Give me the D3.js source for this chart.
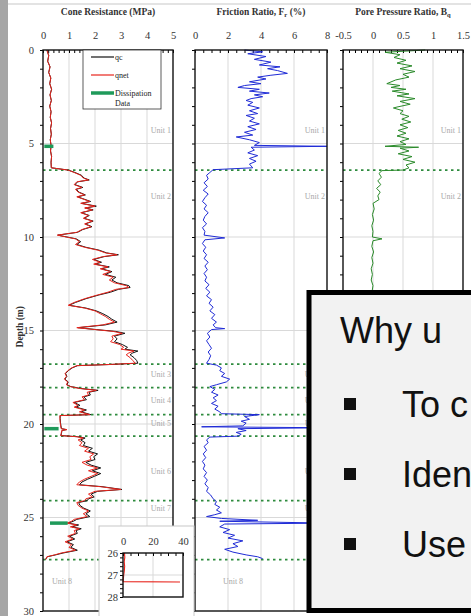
<!DOCTYPE html>
<html>
<head>
<meta charset="utf-8">
<script src="https://cdn.jsdelivr.net/npm/d3@7"></script>
<style>
  body { margin: 0; background: #fff; }
  svg { display: block; }
</style>
</head>
<body>
<svg id="chart" width="471" height="616"></svg>
<script>
// ---- data ----
var depthTicks = [0, 5, 10, 15, 20, 25, 30];
var coneTicks = [0, 1, 2, 3, 4, 5];
var frTicks = [0, 2, 4, 6, 8];
var bqTicks = [-0.5, 0, 0.5, 1, 1.5];
var insetXTicks = [0, 20, 40];
var insetYTicks = [26, 27, 28];

var coneDepth = [0.0, 0.3, 0.6, 0.9, 1.2, 1.5, 1.8, 2.1, 2.4, 2.7, 3.0, 3.3, 3.6, 3.9, 4.2, 4.5, 4.8, 5.1, 5.4, 5.7, 6.0, 6.3,
  6.42, 6.55, 6.7, 6.85, 6.95, 7.05, 7.2, 7.35, 7.45, 7.6, 7.75, 7.85, 7.95, 8.1, 8.2, 8.35, 8.45, 8.55, 8.7, 8.85, 9.0, 9.15,
  9.3, 9.45, 9.6, 9.75, 9.9, 10.0, 10.1, 10.25, 10.4, 10.55, 10.7, 10.85, 10.95, 11.05, 11.2, 11.35, 11.45, 11.6, 11.7, 11.85,
  12.0, 12.15, 12.3, 12.45, 12.6, 12.7, 12.8, 12.95, 13.1, 13.3, 13.5, 13.65, 13.8, 13.95, 14.1, 14.25, 14.4, 14.55, 14.7,
  14.85, 14.95, 15.05, 15.15, 15.3, 15.45, 15.6, 15.75, 15.9, 16.0, 16.1, 16.2, 16.3, 16.45, 16.6, 16.75, 16.82, 16.88, 17.0,
  17.15, 17.3, 17.45, 17.6, 17.75, 17.9, 18.0, 18.1, 18.2, 18.3, 18.45, 18.55, 18.7, 18.85, 19.0, 19.1, 19.25, 19.35, 19.5,
  19.55, 19.7, 19.9, 20.1, 20.25, 20.3, 20.35, 20.5, 20.62, 20.68, 20.75, 20.85, 21.0, 21.15, 21.3, 21.45, 21.6, 21.75, 21.9,
  22.05, 22.2, 22.35, 22.5, 22.65, 22.8, 22.95, 23.1, 23.25, 23.35, 23.5, 23.6, 23.75, 23.9, 24.0, 24.1, 24.2, 24.35, 24.5,
  24.65, 24.8, 24.95, 25.1, 25.2, 25.3, 25.4, 25.5, 25.6, 25.7, 25.85, 26.0, 26.15, 26.3, 26.45, 26.6, 26.75, 26.9, 27.0,
  27.1, 27.25];
var qnet = [0.15, 0.22, 0.18, 0.27, 0.22, 0.3, 0.26, 0.33, 0.27, 0.32, 0.26, 0.31, 0.28, 0.33, 0.29, 0.32, 0.28, 0.31, 0.29, 0.33, 0.31, 0.32,
  0.96, 1.2, 1.45, 1.55, 1.75, 1.3, 1.2, 1.5, 1.25, 1.35, 1.6, 1.3, 1.5, 1.8, 1.45, 2.0, 1.6, 1.9, 1.45, 1.75, 1.55, 1.9,
  1.6, 1.85, 1.5, 1.3, 0.55, 0.9, 1.25, 1.4, 1.25, 1.6, 2.1, 2.4, 2.85, 2.3, 1.9, 2.2, 1.95, 2.5, 2.2, 2.6,
  2.3, 2.7, 2.55, 2.75, 3.2, 3.3, 2.8, 2.5, 2.1, 1.6, 1.2, 0.97, 1.6, 2.0, 2.2, 2.4, 2.55, 2.75, 2.3,
  1.3, 2.0, 2.7, 3.05, 2.65, 2.7, 2.6, 2.95, 3.1, 3.0, 3.5, 3.3, 3.2, 3.35, 3.45, 3.55, 2.5, 1.3, 1.1,
  0.95, 0.85, 0.9, 0.82, 0.95, 0.9, 1.05, 1.4, 2.05, 1.7, 1.75, 1.5, 1.6, 1.15, 1.35, 1.2, 1.6, 1.4, 1.8,
  0.65, 0.65, 0.66, 0.68, 0.7, 0.92, 0.72, 0.7, 0.68, 1.3, 1.55, 1.35, 1.5, 1.4, 1.75, 1.6, 1.95, 1.8, 1.85,
  1.5, 1.7, 2.1, 1.75, 2.1, 1.85, 1.6, 1.4, 1.3, 2.2, 3.0, 2.0, 1.75, 1.9, 1.65, 1.6, 1.3, 1.35, 1.5,
  1.75, 1.55, 1.7, 1.2, 1.1, 0.92, 1.3, 1.05, 1.4, 1.2, 1.25, 0.95, 1.15, 0.85, 1.1, 1.0, 1.25, 0.7, 0.45,
  0.15, 0.1];
var qc = [0.15, 0.22, 0.18, 0.27, 0.22, 0.3, 0.26, 0.33, 0.27, 0.32, 0.26, 0.31, 0.28, 0.33, 0.29, 0.32, 0.28, 0.31, 0.29, 0.33, 0.31, 0.32,
  0.97, 1.23, 1.48, 1.58, 1.78, 1.33, 1.23, 1.53, 1.28, 1.38, 1.63, 1.33, 1.53, 1.83, 1.48, 2.05, 1.63, 1.93, 1.48, 1.78, 1.58, 1.93,
  1.63, 1.88, 1.53, 1.33, 0.57, 0.92, 1.28, 1.45, 1.3, 1.65, 2.15, 2.45, 2.9, 2.35, 1.95, 2.25, 2.0, 2.55, 2.25, 2.65,
  2.4, 2.8, 2.65, 2.85, 3.3, 3.35, 2.9, 2.6, 2.15, 1.65, 1.25, 1.0, 1.65, 2.05, 2.3, 2.5, 2.65, 2.85, 2.4,
  1.35, 2.05, 2.8, 3.15, 2.75, 2.85, 2.75, 3.05, 3.25, 3.15, 3.65, 3.45, 3.35, 3.5, 3.6, 3.65, 2.55, 1.33, 1.12,
  0.97, 0.87, 0.92, 0.84, 0.97, 0.92, 1.07, 1.45, 2.12, 1.77, 1.82, 1.57, 1.67, 1.2, 1.42, 1.27, 1.67, 1.47, 1.84,
  0.66, 0.66, 0.67, 0.69, 0.71, 0.9, 0.73, 0.71, 0.69, 1.33, 1.62, 1.45, 1.62, 1.55, 1.9, 1.75, 2.1, 1.95, 2.0,
  1.65, 1.85, 2.22, 1.9, 2.22, 1.97, 1.72, 1.5, 1.4, 2.27, 3.03, 2.1, 1.85, 1.97, 1.75, 1.7, 1.37, 1.42, 1.57,
  1.82, 1.65, 1.8, 1.3, 1.17, 0.97, 1.37, 1.12, 1.47, 1.27, 1.32, 1.02, 1.22, 0.92, 1.17, 1.07, 1.32, 0.77, 0.48,
  0.16, 0.1];

var dissDepth = [5.15, 20.25, 25.3];
var dissFrom = [0.05, 0.05, 0.27];
var dissTo = [0.4, 0.6, 0.95];

var frDepth = [0.0, 0.1, 0.2, 0.35, 0.5, 0.65, 0.8, 0.9, 1.0, 1.1, 1.25, 1.35, 1.45, 1.55, 1.7, 1.8, 1.9, 2.0, 2.1, 2.2,
  2.3, 2.4, 2.5, 2.6, 2.7, 2.8, 2.95, 3.1, 3.25, 3.4, 3.5, 3.65, 3.8, 3.95, 4.1, 4.25, 4.4, 4.55, 4.65, 4.8, 4.95, 5.1,
  5.15, 5.2, 5.35, 5.5, 5.65, 5.8, 5.95, 6.1, 6.3, 6.4, 6.55, 6.7, 6.9, 7.1, 7.3, 7.5, 7.7, 7.9, 8.1, 8.3, 8.5, 8.7, 8.9,
  9.1, 9.3, 9.5, 9.7, 9.9, 10.05, 10.15, 10.35, 10.55, 10.75, 10.95, 11.15, 11.35, 11.55, 11.75, 11.95, 12.15, 12.35,
  12.55, 12.75, 12.95, 13.15, 13.35, 13.55, 13.75, 13.95, 14.15, 14.35, 14.55, 14.7, 14.85, 14.9, 14.95, 15.15, 15.35,
  15.55, 15.75, 15.95, 16.15, 16.35, 16.55, 16.75, 16.85, 17.0, 17.15, 17.3, 17.45, 17.6, 17.75, 17.9, 18.0, 18.15,
  18.3, 18.45, 18.6, 18.75, 18.9, 19.05, 19.2, 19.35, 19.45, 19.5, 19.6, 19.75, 19.85, 19.95, 20.1, 20.15, 20.2, 20.25,
  20.35, 20.45, 20.55, 20.65, 20.7, 20.85, 21.0, 21.2, 21.4, 21.6, 21.8, 22.0, 22.2, 22.4, 22.6, 22.8, 23.0, 23.2, 23.4,
  23.6, 23.8, 24.0, 24.15, 24.3, 24.45, 24.6, 24.75, 24.85, 24.95, 25.05, 25.15, 25.2, 25.3, 25.35, 25.5, 25.65, 25.8,
  25.95, 26.1, 26.25, 26.4, 26.55, 26.7, 26.85, 27.0, 27.1, 27.2];
var fr = [3.0, 4.1, 3.2, 4.3, 3.6, 4.6, 3.9, 5.15, 4.4, 5.0, 5.6, 4.6, 3.8, 4.3, 3.3, 4.0, 3.0, 2.6, 3.9, 3.3,
  4.5, 3.6, 4.1, 3.4, 3.1, 3.5, 3.2, 3.9, 3.3, 3.8, 3.1, 3.6, 3.3, 3.9, 3.2, 3.7, 3.0, 3.5, 2.5, 3.3, 3.9, 3.6,
  8.0, 3.4, 3.6, 3.2, 3.8, 3.3, 3.7, 3.3, 3.5, 1.1, 0.9, 0.7, 0.8, 0.55, 0.75, 0.5, 0.8, 0.6, 0.45, 0.7, 0.55, 0.8, 0.6,
  0.5, 0.7, 0.45, 0.6, 0.55, 1.8, 0.6, 0.45, 0.65, 0.5, 0.7, 0.55, 0.8, 0.6, 0.75, 0.55, 0.7, 0.6,
  0.85, 0.65, 0.9, 0.7, 1.0, 0.85, 1.1, 0.9, 1.2, 1.0, 1.3, 1.1, 1.25, 1.8, 1.0, 0.75, 0.9,
  0.7, 0.85, 1.0, 0.8, 0.95, 0.85, 0.7, 1.3, 1.6, 1.5, 1.8, 1.6, 2.1, 1.9, 1.3, 0.9, 1.2,
  1.0, 1.4, 1.1, 1.3, 1.0, 1.4, 1.2, 1.5, 1.6, 3.9, 3.0, 3.3, 2.8, 3.1, 2.9, 0.4, 8.0, 2.6,
  3.1, 2.5, 2.8, 2.6, 0.9, 0.7, 0.8, 0.55, 0.7, 0.5, 0.65, 0.45, 0.6, 0.5, 0.7, 0.55, 0.75, 0.6, 0.8,
  0.7, 0.95, 1.1, 1.3, 1.2, 1.5, 1.3, 1.6, 1.2, 0.7, 1.6, 3.8, 1.5, 8.0, 1.8, 1.5, 2.1, 1.7,
  2.4, 2.0, 2.9, 2.3, 2.6, 1.8, 2.3, 3.1, 3.8, 4.1];

var bqDepth = [0.0, 0.05, 0.12, 0.25, 0.4, 0.55, 0.7, 0.85, 1.0, 1.15, 1.3, 1.45, 1.6, 1.8, 1.9, 2.0, 2.1, 2.2, 2.35,
  2.45, 2.6, 2.75, 2.9, 3.05, 3.1, 3.25, 3.4, 3.55, 3.7, 3.85, 4.0, 4.15, 4.3, 4.45, 4.6, 4.75, 4.9, 5.05, 5.15, 5.2,
  5.25, 5.4, 5.55, 5.7, 5.85, 6.0, 6.15, 6.3, 6.42, 6.45, 6.6, 6.8, 7.0, 7.2, 7.4, 7.6, 7.8, 8.0, 8.2, 8.5, 8.8, 9.1,
  9.4, 9.7, 10.0, 10.1, 10.2, 10.5, 10.8, 11.1, 11.4, 11.7, 12.0, 12.3, 12.6, 13.0, 14.0, 15.0, 16.0];
var bq = [0.87, 0.6, 0.2, 0.45, 0.35, 0.55, 0.4, 0.65, 0.45, 0.7, 0.5, 0.6, 0.38, 0.23, 0.45, 0.3, 0.55, 0.32, 0.6,
  0.4, 0.7, 0.45, 0.62, 0.4, 0.34, 0.5, 0.45, 0.6, 0.48, 0.63, 0.45, 0.58, 0.42, 0.55, 0.4, 0.6, 0.45, 0.55, 0.2, 0.76,
  0.45, 0.6, 0.42, 0.65, 0.5, 0.7, 0.55, 0.6, 0.5, 0.15, 0.1, 0.14, 0.08, 0.13, 0.06, 0.12, 0.08, 0.1, 0.0, 0.02, -0.01, 0.01,
  -0.02, 0.0, -0.01, 0.15, 0.0, -0.02, 0.01, -0.02, 0.0, -0.03, -0.01, -0.03, 0.0, -0.02, -0.01, -0.02, 0.0];

var unitBounds = [6.42, 16.8, 18.05, 19.5, 20.65, 24.1, 27.25];
var unitNames = ["Unit 1", "Unit 2", "Unit 3", "Unit 4", "Unit 5", "Unit 6", "Unit 7", "Unit 8"];
var unitLabelDepth = [4.3, 7.8, 17.3, 18.7, 19.95, 22.5, 24.5, 28.4];

var insetDepth = [26.0, 26.2, 26.4, 26.6, 26.8, 27.0, 27.2, 27.3, 27.32];
var insetQnet = [1.0, 1.2, 0.8, 1.1, 0.9, 0.5, 0.2, 0.1, 38];

var boxTitle = "Why u";
var boxBullets = ["To c", "Iden", "Use"];

// ---- drawing ----
var svg = d3.select("#chart");
var SERIF = "'Liberation Serif', 'Times New Roman', serif";
var SANS = "'Liberation Sans', Arial, sans-serif";
var fmt = function(d) { return String(d); };
var BOX_TOP = 292.5;

// slide chrome
svg.append("rect").attr("x", 0).attr("y", 0).attr("width", 8).attr("height", 616).attr("fill", "#a6a6a6");
svg.append("line").attr("x1", 8).attr("x2", 471).attr("y1", 4).attr("y2", 4).attr("stroke", "#e3e3e3").attr("stroke-width", 2);

var y = d3.scaleLinear().domain([0, 30]).range([50, 611]);

var panels = [
  { x: d3.scaleLinear().domain([0, 5]).range([43, 173]), ticks: coneTicks, minor: 0.2, title: "Cone Resistance (MPa)" },
  { x: d3.scaleLinear().domain([0, 8]).range([195, 327]), ticks: frTicks, minor: 0.5, title: "Friction Ratio, F", sub: "r", after: " (%)" },
  { x: d3.scaleLinear().domain([-0.5, 1.5]).range([343, 463]), ticks: bqTicks, minor: 0.1, title: "Pore Pressure Ratio, B", sub: "q" }
];

function styleLabels(a) {
  a.select(".domain").remove();
  a.selectAll("text").attr("font-size", 10.5).attr("fill", "#333").attr("font-family", SERIF);
}

panels.forEach(function(p, i) {
  var x = p.x;
  var x0 = x.range()[0], x1 = x.range()[1];
  var g = svg.append("g");

  // grid
  g.selectAll(".vg").data(p.ticks.slice(1, -1)).enter().append("line")
    .attr("x1", function(d) { return x(d); }).attr("x2", function(d) { return x(d); })
    .attr("y1", y(0)).attr("y2", y(30)).attr("stroke", "#d9d9d9").attr("stroke-width", 1);
  g.selectAll(".hg").data(depthTicks.slice(1, -1)).enter().append("line")
    .attr("x1", x0).attr("x2", x1)
    .attr("y1", function(d) { return y(d); }).attr("y2", function(d) { return y(d); })
    .attr("stroke", "#d9d9d9").attr("stroke-width", 1);

  // top axis: labels + minor ticks pointing in
  var minorVals = x.ticks(Math.round((x.domain()[1] - x.domain()[0]) / p.minor));
  g.append("g").attr("transform", "translate(0," + y(0) + ")")
    .call(d3.axisTop(x).tickValues(minorVals).tickSize(-3).tickFormat(""))
    .call(function(a) { a.select(".domain").remove(); a.selectAll("line").attr("stroke", "#000").attr("stroke-width", 1); });
  g.append("g").attr("transform", "translate(0," + y(0) + ")")
    .call(d3.axisTop(x).tickValues(p.ticks).tickSize(0).tickPadding(11).tickFormat(fmt))
    .call(styleLabels);

  // left axis
  var la = g.append("g").attr("transform", "translate(" + x0 + ",0)")
    .call(d3.axisLeft(y).ticks(30).tickSize(3).tickFormat(""));
  la.select(".domain").remove();
  if (i === 0) {
    g.append("g").attr("transform", "translate(" + x0 + ",0)")
      .call(d3.axisLeft(y).tickValues(depthTicks).tickSize(0).tickPadding(9).tickFormat(fmt))
      .call(styleLabels);
  }

  // title
  var t = svg.append("text").attr("x", (x0 + x1) / 2).attr("y", 15).attr("text-anchor", "middle")
    .attr("font-family", SERIF).attr("font-weight", "bold").attr("font-size", 9.5).attr("fill", "#333").text(p.title);
  if (p.sub) {
    t.append("tspan").attr("font-size", 6.5).attr("dy", 2).text(p.sub);
    if (p.after) t.append("tspan").attr("dy", -2).text(p.after);
  }

  // unit boundaries
  g.selectAll(".ub").data(unitBounds).enter().append("line")
    .attr("x1", x0).attr("x2", x1)
    .attr("y1", function(d) { return y(d); }).attr("y2", function(d) { return y(d); })
    .attr("stroke", "#2e8b3e").attr("stroke-width", 1.8).attr("stroke-dasharray", "2.5,3.5");

  p.g = g;
});

// unit labels (panel 3 ones below the text box top are hidden anyway)
panels.forEach(function(p, i) {
  var x0 = p.x.range()[0], x1 = p.x.range()[1];
  unitNames.forEach(function(name, k) {
    if (i === 2 && y(unitLabelDepth[k]) > BOX_TOP) return;
    var last = k === unitNames.length - 1;
    var tx = last ? (i === 0 ? 62 : x0 + 38) : x1 - 2;
    p.g.append("text").attr("x", tx).attr("y", y(unitLabelDepth[k]) + 3)
      .attr("text-anchor", last ? "middle" : "end")
      .attr("font-family", SERIF).attr("font-size", 8).attr("fill", "#a8a8a8").text(name);
  });
});

// series
var p1 = panels[0], p2 = panels[1], p3 = panels[2];
function profile(x, depths) {
  return d3.line().x(function(d) { return x(d); }).y(function(d, i) { return y(depths[i]); });
}
p1.g.append("path").attr("d", profile(p1.x, coneDepth)(qc)).attr("fill", "none").attr("stroke", "#111").attr("stroke-width", 1);
p1.g.append("path").attr("d", profile(p1.x, coneDepth)(qnet)).attr("fill", "none").attr("stroke", "#e8241c").attr("stroke-width", 1);
p1.g.selectAll(".diss").data(dissDepth).enter().append("line")
  .attr("x1", function(d, i) { return p1.x(dissFrom[i]); }).attr("x2", function(d, i) { return p1.x(dissTo[i]); })
  .attr("y1", function(d) { return y(d); }).attr("y2", function(d) { return y(d); })
  .attr("stroke", "#1f9a5a").attr("stroke-width", 3.5);
p2.g.append("path").attr("d", profile(p2.x, frDepth)(fr)).attr("fill", "none").attr("stroke", "#1f2bd6").attr("stroke-width", 1);
p3.g.append("path").attr("d", profile(p3.x, bqDepth)(bq)).attr("fill", "none").attr("stroke", "#2a8a2a").attr("stroke-width", 1);

// frames
panels.forEach(function(p) {
  var x0 = p.x.range()[0], x1 = p.x.range()[1];
  svg.append("rect").attr("x", x0).attr("y", y(0)).attr("width", x1 - x0).attr("height", y(30) - y(0))
    .attr("fill", "none").attr("stroke", "#111").attr("stroke-width", 1.4);
});

// y label
svg.append("text").attr("transform", "translate(23," + y(14.8) + ") rotate(-90)").attr("text-anchor", "middle")
  .attr("font-family", SERIF).attr("font-weight", "bold").attr("font-size", 9.5).attr("fill", "#333").text("Depth (m)");

// legend
var lg = svg.append("g");
lg.append("rect").attr("x", 83).attr("y", 50).attr("width", 78).attr("height", 59)
  .attr("fill", "#fff").attr("stroke", "#333").attr("stroke-width", 0.8);
var legItems = [
  { name: "qc", color: "#111", w: 1.2, yy: 57 },
  { name: "qnet", color: "#e8241c", w: 1.2, yy: 75 },
  { name: "Dissipation", color: "#1f9a5a", w: 3.5, yy: 93 }
];
legItems.forEach(function(d) {
  lg.append("line").attr("x1", 91).attr("x2", 114).attr("y1", d.yy).attr("y2", d.yy).attr("stroke", d.color).attr("stroke-width", d.w);
  lg.append("text").attr("x", 115).attr("y", d.yy + 3).attr("font-family", SERIF).attr("font-size", 8).attr("fill", "#222").text(d.name);
});
lg.append("text").attr("x", 115).attr("y", 106).attr("font-family", SERIF).attr("font-size", 8).attr("fill", "#222").text("Data");

// inset
var ix = d3.scaleLinear().domain([0, 40]).range([123, 183]);
var iy = d3.scaleLinear().domain([26, 28]).range([553, 597]);
var ig = svg.append("g");
ig.append("rect").attr("x", 99).attr("y", 526).attr("width", 95).attr("height", 92).attr("fill", "#fff").attr("stroke", "#c8c8c8").attr("stroke-width", 1);
ig.append("line").attr("x1", ix(20)).attr("x2", ix(20)).attr("y1", iy(26)).attr("y2", iy(28)).attr("stroke", "#d9d9d9");
ig.append("line").attr("x1", ix(0)).attr("x2", ix(40)).attr("y1", iy(27)).attr("y2", iy(27)).attr("stroke", "#d9d9d9");
ig.append("g").attr("transform", "translate(0," + iy(26) + ")")
  .call(d3.axisTop(ix).ticks(8).tickSize(-3).tickFormat(""))
  .call(function(a) { a.select(".domain").remove(); });
ig.append("g").attr("transform", "translate(0," + iy(26) + ")")
  .call(d3.axisTop(ix).tickValues(insetXTicks).tickSize(0).tickPadding(8).tickFormat(fmt))
  .call(styleLabels);
ig.append("g").attr("transform", "translate(" + ix(0) + ",0)")
  .call(d3.axisLeft(iy).ticks(10).tickSize(3).tickFormat(""))
  .call(function(a) { a.select(".domain").remove(); });
ig.append("g").attr("transform", "translate(" + ix(0) + ",0)")
  .call(d3.axisLeft(iy).tickValues(insetYTicks).tickSize(0).tickPadding(5).tickFormat(fmt))
  .call(styleLabels);
ig.append("path").attr("d", d3.line().x(function(d) { return ix(d); }).y(function(d, i) { return iy(insetDepth[i]); })(insetQnet))
  .attr("fill", "none").attr("stroke", "#e8241c").attr("stroke-width", 1.1);
ig.append("rect").attr("x", ix(0)).attr("y", iy(26)).attr("width", ix(40) - ix(0)).attr("height", iy(28) - iy(26))
  .attr("fill", "none").attr("stroke", "#111").attr("stroke-width", 1.4);

// overlay text box
var bx = svg.append("g");
bx.append("rect").attr("x", 309).attr("y", BOX_TOP).attr("width", 200).attr("height", 318)
  .attr("fill", "#f2f2f2").attr("stroke", "#000").attr("stroke-width", 5);
bx.append("text").attr("x", 340).attr("y", 343).attr("font-family", SANS).attr("font-size", 36).attr("fill", "#111").text(boxTitle);
boxBullets.forEach(function(s, k) {
  var by = 417 + k * 70;
  bx.append("rect").attr("x", 344).attr("y", by - 19).attr("width", 12).attr("height", 12).attr("fill", "#111");
  bx.append("text").attr("x", 402).attr("y", by).attr("font-family", SANS).attr("font-size", 36).attr("fill", "#111").text(s);
});
</script>
</body>
</html>
